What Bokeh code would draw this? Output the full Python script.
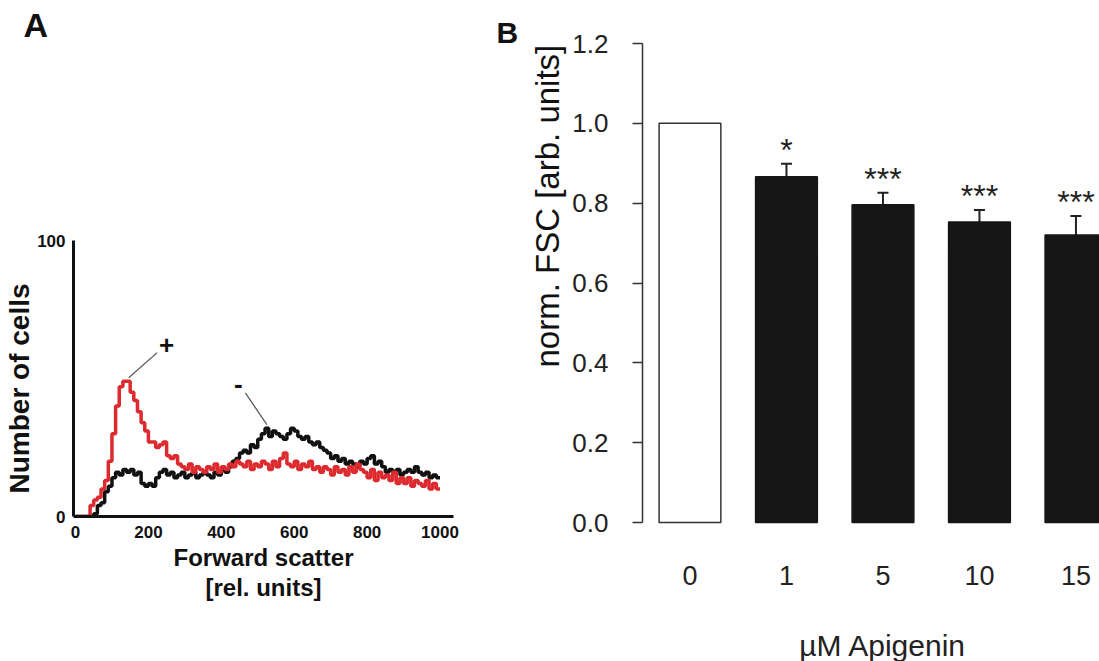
import math
from bokeh.plotting import figure
from bokeh.models import (Range1d, FixedTicker, Label, Title, ColumnDataSource, Whisker, TeeHead)
from bokeh.core.properties import value
from bokeh.embed import file_html
from bokeh.resources import INLINE

# ---------------- data: panel A (flow cytometry histograms) ----------------
fsc_bins = list(range(0, 1000, 10))
counts_control = [0, 0, 0, 0, 0, 1, 4, 5, 9, 11, 14, 16, 15, 17, 16, 17, 15, 16, 12, 11,
                  12, 11, 14, 16, 17, 15, 16, 14, 15, 16, 14, 15, 16, 14, 15, 16, 15, 14, 16, 15,
                  17, 16, 18, 20, 21, 23, 24, 23, 26, 25, 28, 30, 32, 29, 31, 30, 29, 28, 30, 32,
                  31, 29, 28, 29, 27, 26, 27, 25, 24, 23, 21, 22, 20, 21, 19, 20, 19, 18, 20, 19,
                  21, 22, 19, 20, 18, 16, 17, 16, 17, 15, 16, 17, 16, 18, 16, 15, 16, 14, 15, 14]
counts_apigenin = [0, 0, 0, 0, 4, 6, 7, 10, 13, 20, 30, 40, 47, 49, 49, 45, 42, 38, 34, 31,
                   27, 27, 25, 26, 27, 22, 21, 22, 19, 18, 17, 19, 16, 18, 17, 16, 18, 17, 19, 16,
                   18, 17, 19, 18, 20, 19, 18, 20, 17, 19, 18, 20, 19, 17, 20, 18, 21, 23, 19, 18,
                   20, 17, 19, 18, 20, 17, 18, 16, 18, 17, 15, 18, 16, 17, 15, 18, 16, 19, 17, 16,
                   14, 17, 13, 16, 14, 15, 13, 16, 12, 14, 12, 14, 11, 13, 12, 11, 13, 10, 12, 10]
a_xticks = [0, 200, 400, 600, 800, 1000]
a_yticks = [0, 100]

# ---------------- data: panel B (bar chart) ----------------
conc_labels = ["0", "1", "5", "10", "15"]
fsc_mean = [1.0, 0.866, 0.796, 0.753, 0.72]
fsc_sem = [0.0, 0.033, 0.030, 0.030, 0.048]
signif = ["", "*", "***", "***", "***"]
b_yticks = [0.0, 0.2, 0.4, 0.6, 0.8, 1.0, 1.2]

RED = "#dc2a2e"
DARK = "#222222"
BLK = "#111111"


def title(text, size, align="center", offset=0, standoff=0, style="bold"):
    return Title(text=text, align=align, offset=offset, standoff=standoff,
                 text_font="Liberation Sans", text_font_size=size,
                 text_font_style=style, text_color=BLK)


def la(text, x, y, size, style="bold", color=BLK):
    return Label(x=x, y=y, text=text, text_font="Liberation Sans", text_font_size=size,
                 text_font_style=style, text_align="center", text_baseline="middle",
                 text_color=color)


# ================= Panel A =================
pa = figure(width=480, height=661, output_backend="svg", toolbar_location=None,
            x_range=Range1d(-5.5, 1037), y_range=Range1d(0, 171.4),
            min_border_left=73, min_border_right=27, min_border_top=43, min_border_bottom=145)
pa.outline_line_color = None
pa.xgrid.visible = False
pa.ygrid.visible = False
pa.styles = {"position": "absolute", "left": "0px", "top": "0px"}

edges = fsc_bins + [fsc_bins[-1] + 10]
ctrl = counts_control + [counts_control[-1]]
apig = counts_apigenin + [counts_apigenin[-1]]
pa.step(edges, ctrl, mode="after", line_color=BLK, line_width=3.5)
pa.step(edges, apig, mode="after", line_color=RED, line_width=3.5)

for ax in (pa.xaxis[0], pa.yaxis[0]):
    ax.axis_line_width = 3
    ax.axis_line_color = BLK
    ax.major_tick_line_color = None
    ax.minor_tick_line_color = None
    ax.major_label_text_font = "Liberation Sans"
    ax.major_label_text_font_style = "bold"
    ax.major_label_text_font_size = "17px"
    ax.major_label_text_color = BLK
pa.xaxis.ticker = FixedTicker(ticks=a_xticks)
pa.yaxis.ticker = FixedTicker(ticks=a_yticks)
pa.yaxis.bounds = (0, 100)
pa.xaxis.major_label_standoff = 3
pa.yaxis.major_label_standoff = 2

# leader lines for + / -
pa.segment(x0=[146, 466], y0=[50.3, 44.8], x1=[224, 525], y1=[59.4, 33.3],
           line_color="#555555", line_width=1.2)

pa.add_layout(la("+", 250, 62, "26px"))
pa.add_layout(la("-", 447, 48, "26px"))
pa.add_layout(title("A", "34px", align="left", offset=-50, standoff=0), "above")
pa.add_layout(title("Number of cells", "28px", align="left", offset=23, standoff=0), "left")
pa.add_layout(title("Forward scatter", "24px", standoff=2), "below")
pa.add_layout(title("[rel. units]", "24px", standoff=0), "below")

# ================= Panel B =================
xs = list(range(len(conc_labels)))
pb = figure(width=619, height=661, output_backend="svg", toolbar_location=None,
            x_range=Range1d(-0.492, 4.244), y_range=Range1d(-0.3482, 1.2),
            min_border_left=162, min_border_right=0, min_border_top=43, min_border_bottom=0)
pb.outline_line_color = None
pb.xgrid.visible = False
pb.ygrid.visible = False
pb.styles = {"position": "absolute", "left": "480px", "top": "0px"}

fills = ["white"] + ["#161616"] * (len(xs) - 1)
lines = ["#333333"] + ["#161616"] * (len(xs) - 1)
pb.vbar(x=xs, top=fsc_mean, width=0.64, bottom=0, fill_color=fills, line_color=lines, line_width=1.5)

err_x = [x for x, s in zip(xs, fsc_sem) if s > 0]
err_lo = [m for m, s in zip(fsc_mean, fsc_sem) if s > 0]
err_hi = [m + s for m, s in zip(fsc_mean, fsc_sem) if s > 0]
esrc = ColumnDataSource(dict(x=err_x, lower=err_lo, upper=err_hi))
pb.add_layout(Whisker(base="x", lower="lower", upper="upper", source=esrc,
                      line_color="#222222", line_width=2,
                      upper_head=TeeHead(size=11, line_color="#222222", line_width=2),
                      lower_head=None))

star_y = [m + s + 0.034 for m, s in zip(fsc_mean, fsc_sem)]
pb.text(x=xs, y=star_y, text=signif, text_font=value("Liberation Sans"), text_font_size="32px",
        text_align="center", text_baseline="middle", text_color=DARK)

yax = pb.yaxis[0]
yax.ticker = FixedTicker(ticks=b_yticks)
yax.bounds = (0, 1.2)
yax.major_label_overrides = {t: f"{t:.1f}" for t in b_yticks}
yax.axis_line_color = "#333333"
yax.axis_line_width = 1.5
yax.major_tick_line_color = "#333333"
yax.major_tick_line_width = 1.5
yax.major_tick_out = 10
yax.major_tick_in = 0
yax.minor_tick_line_color = None
yax.major_label_text_font = "Liberation Sans"
yax.major_label_text_font_size = "26px"
yax.major_label_text_color = DARK
yax.major_label_standoff = 24

xax = pb.xaxis[0]
xax.fixed_location = 0
xax.ticker = FixedTicker(ticks=xs)
xax.major_label_overrides = {i: lab for i, lab in enumerate(conc_labels)}
xax.axis_line_color = None
xax.major_tick_line_color = None
xax.minor_tick_line_color = None
xax.major_label_text_font = "Liberation Sans"
xax.major_label_text_font_size = "27px"
xax.major_label_text_color = DARK
xax.major_label_standoff = 37

pb.add_layout(title("B", "30px", align="left", offset=-146, standoff=-10), "above")
pb.add_layout(title("norm. FSC [arb. units]", "33px", align="left", offset=294, standoff=8,
                    style="normal"), "left")
pb.add_layout(la("\u00b5M Apigenin", 2.0, -0.309, "30px", style="normal", color=DARK))

open("out.html", "w").write(file_html([pa, pb], INLINE))
